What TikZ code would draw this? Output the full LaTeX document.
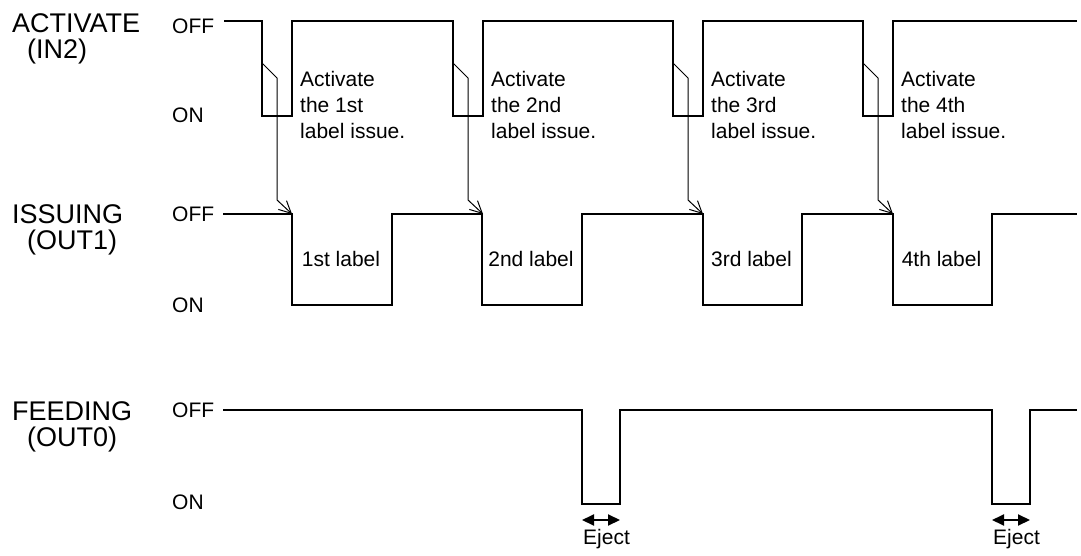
\documentclass[tikz,border=0pt]{standalone}
\usepackage{fontspec}
\setmainfont{Liberation Sans}
\usetikzlibrary{arrows.meta}
\tikzset{
  wave/.style={line width=2pt,line join=miter},
  cue/.style={line width=1pt,-{Straight Barb[length=12pt,width=12pt]}},
  ejectarrow/.style={line width=2pt,{Triangle[length=12pt,width=11pt]}-{Triangle[length=12pt,width=11pt]}},
  txt/.style={font=\fontsize{21}{26}\selectfont,inner sep=0pt},
  bigtxt/.style={font=\fontsize{27}{27}\selectfont,inner sep=0pt},
}
\newcommand{\signame}[4]{%
  \node[bigtxt,anchor=base west] (#1) at (12,#4) {#2};
  \node[bigtxt,anchor=base west] (#1port) at (27,#4+26) {#3};
}
\newcommand{\levels}[3]{%
  \node[txt,anchor=west] (#1off) at (172,#2) {OFF};
  \node[txt,anchor=west] (#1on) at (172,#3) {ON};
}
\begin{document}
\begin{tikzpicture}[x=1pt,y=-1pt]
\useasboundingbox (0,0) rectangle (1081,556);
% signal names and levels
\signame{act}{ACTIVATE}{(IN2)}{33}
\signame{iss}{ISSUING}{(OUT1)}{223}
\signame{feed}{FEEDING}{(OUT0)}{420}
\levels{act}{26}{115}
\levels{iss}{214}{305}
\levels{feed}{410}{502}
% waveforms
\draw[wave] (224,21) foreach \a in {262,453,673,863}{-- (\a,21) -- (\a,116) -- (\a+30,116) -- (\a+30,21)} -- (1077,21);
\draw[wave] (223,214) foreach \f/\r in {292/392,482/582,703/802,893/992}{-- (\f,214) -- (\f,305) -- (\r,305) -- (\r,214)} -- (1077,214);
\draw[wave] (223,410) foreach \f/\r in {582/620,992/1030}{-- (\f,410) -- (\f,504) -- (\r,504) -- (\r,410)} -- (1077,410);
% activate -> issuing
\foreach \a/\ord [count=\i] in {262/1st,453/2nd,673/3rd,863/4th}{
  \coordinate (trig\i) at (\a,63);
  \coordinate (fall\i) at (\a+30,214);
  \draw[cue] (trig\i) -- ++(15,15) -- ++(0,122) -- (fall\i);
  \node[txt,align=left,anchor=north west] (note\i) at (\a+38,71) {Activate\\the \ord\\label issue.};
}
\foreach \f/\r/\ord [count=\i] in {292/392/1st,482/582/2nd,703/802/3rd,893/992/4th}{
  \node[txt] (issue\i) at ({(\f+\r)/2-1},259) {\ord\ label};
}
% eject
\foreach \f/\r [count=\i] in {582/620,992/1030}{
  \coordinate (ejl\i) at (\f,520);
  \coordinate (ejr\i) at (\r,520);
  \draw[ejectarrow] (ejl\i) -- (ejr\i);
  \node[txt,anchor=base west] (eject\i) at (\f+1,544) {Eject};
}
\end{tikzpicture}
\end{document}
